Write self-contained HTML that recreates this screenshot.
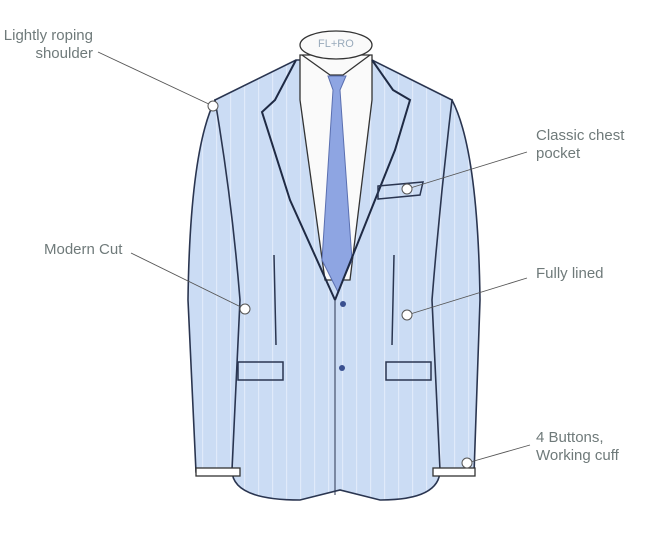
<!DOCTYPE html>
<html><head><style>
body{margin:0;background:#fff;width:669px;height:533px;overflow:hidden}
svg{display:block}
text{font-family:"Liberation Sans",sans-serif;font-size:15px;fill:#6f7a7a}
</style></head><body>
<svg width="669" height="533" viewBox="0 0 669 533">
<defs>
<pattern id="st" width="14" height="10" patternUnits="userSpaceOnUse">
<rect width="14" height="10" fill="#cbdcf4"/><rect x="6" width="1.2" height="10" fill="#e0eafa"/>
</pattern>
</defs>
<path d="M215,100 Q190,150 188,300 L196,472 L240,474 L245,300 Q238,180 230,110 Z" fill="url(#st)" stroke="#2a3550" stroke-width="1.6"/>
<path d="M452,100 Q478,150 480,300 L474,474 L432,474 L428,300 Q432,180 440,110 Z" fill="url(#st)" stroke="#2a3550" stroke-width="1.6"/>
<path d="M215,100 L296,60 L372,60 L452,100 Q440,200 432,300 L440,470 Q440,500 380,500 L340,490 L300,500 Q232,500 232,470 L240,300 Q232,200 215,100 Z" fill="url(#st)" stroke="#2a3550" stroke-width="1.6"/>
<rect x="196" y="468" width="44" height="8" fill="#fff" stroke="#333" stroke-width="1.3"/>
<rect x="433" y="468" width="42" height="8" fill="#fff" stroke="#333" stroke-width="1.3"/>
<path d="M300,55 L372,55 L372,100 L350,280 L325,280 L300,100 Z" fill="#fafafa" stroke="#333" stroke-width="1.3"/>
<ellipse cx="336" cy="45" rx="36" ry="14" fill="#fafafa" stroke="#333" stroke-width="1.3"/>
<text x="318" y="47" style="font-size:11px;fill:#9ab"> FL+RO</text>
<path d="M302,55 L330,75 L343,75 L370,55" fill="none" stroke="#333" stroke-width="1.3"/>
<path d="M328,76 L346,76 L340,90 L352,260 L338,292 L322,260 L333,90 Z" fill="#8ea5e2" stroke="#5a6fb0" stroke-width="1"/>
<path d="M296,60 L275,100 L262,112 L290,200 L335,300" fill="none" stroke="#1f2a44" stroke-width="2"/>
<path d="M372,60 L393,90 L410,100 L395,150 L335,300" fill="none" stroke="#1f2a44" stroke-width="2"/>
<path d="M335,300 L335,495" stroke="#2a3550" stroke-width="1"/>
<path d="M378,186 L423,182 L420,195 L378,199 Z" fill="none" stroke="#2a3550" stroke-width="1.5"/>
<rect x="238" y="362" width="45" height="18" fill="none" stroke="#2a3550" stroke-width="1.5"/>
<rect x="386" y="362" width="45" height="18" fill="none" stroke="#2a3550" stroke-width="1.5"/>
<path d="M274,255 L276,345 M394,255 L392,345" stroke="#2a3550" stroke-width="1.5"/>
<circle cx="343" cy="304" r="3" fill="#3a5090"/><circle cx="342" cy="368" r="3" fill="#3a5090"/>
<g stroke="#555" stroke-width="0.9">
<line x1="98" y1="52" x2="213" y2="106"/>
<line x1="527" y1="152" x2="407" y2="189"/>
<line x1="131" y1="253" x2="245" y2="309"/>
<line x1="527" y1="278" x2="407" y2="315"/>
<line x1="530" y1="445" x2="467" y2="463"/>
</g>
<g fill="#fff" stroke="#555" stroke-width="1">
<circle cx="213" cy="106" r="5"/><circle cx="407" cy="189" r="5"/><circle cx="245" cy="309" r="5"/><circle cx="407" cy="315" r="5"/><circle cx="467" cy="463" r="5"/>
</g>
<text x="93" y="40" text-anchor="end">Lightly roping</text>
<text x="93" y="58" text-anchor="end">shoulder</text>
<text x="536" y="140">Classic chest</text>
<text x="536" y="158">pocket</text>
<text x="44" y="254">Modern Cut</text>
<text x="536" y="278">Fully lined</text>
<text x="536" y="442">4 Buttons,</text>
<text x="536" y="460">Working cuff</text>
</svg>
</body></html>
